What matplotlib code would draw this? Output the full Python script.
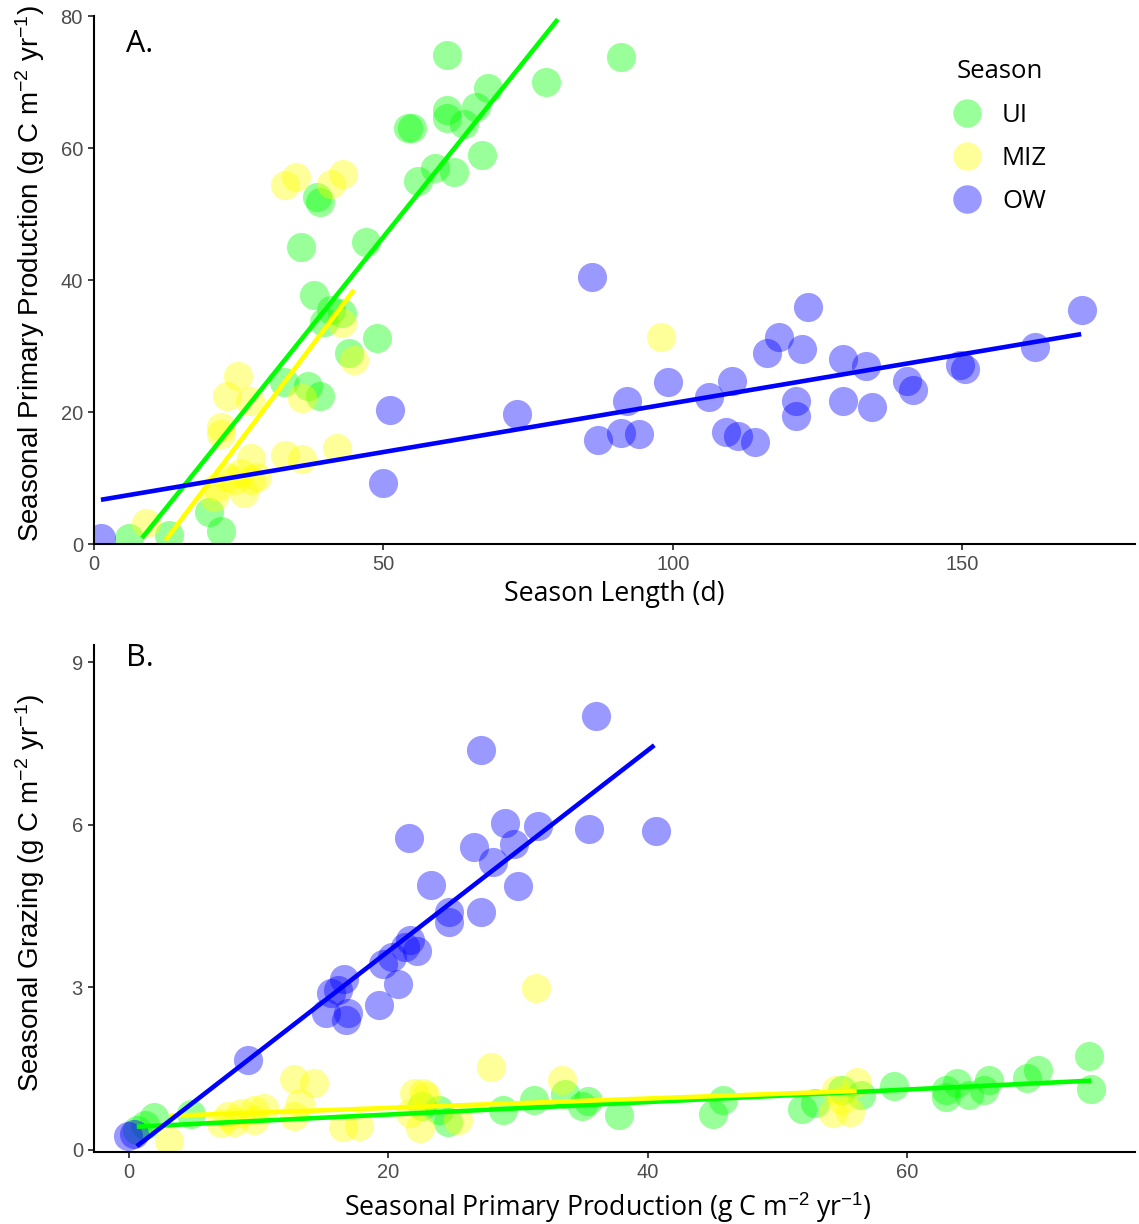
import matplotlib
matplotlib.use("Agg")
import matplotlib.pyplot as plt
from matplotlib.lines import Line2D

# ---------------- data: panel A (season length vs primary production) -------------
ui_len = [6.0, 13.0, 19.9, 21.9, 32.8, 37.0, 39.0, 35.8, 38.0, 38.5, 39.0, 39.7, 40.9,
          42.8, 44.0, 47.0, 48.9, 54.2, 54.9, 56.0, 58.9, 61.0, 61.0, 61.0, 62.1, 63.9,
          66.0, 67.0, 68.0, 78.0, 91.0]
ui_pp = [0.9, 1.4, 4.8, 2.0, 24.6, 23.9, 22.4, 45.0, 37.8, 52.6, 51.8, 33.6, 35.5,
         35.0, 28.9, 45.8, 31.2, 63.0, 63.0, 55.0, 57.0, 74.1, 65.8, 64.6, 56.4, 63.6,
         66.2, 58.9, 69.1, 70.0, 73.8]

miz_len = [9.0, 20.7, 21.2, 21.9, 21.9, 23.0, 23.0, 24.2, 24.9, 25.4, 25.9, 26.9, 27.1,
           27.1, 28.2, 33.0, 33.0, 34.9, 35.9, 35.9, 40.9, 42.0, 42.8, 43.0, 44.9, 97.9]
miz_pp = [3.2, 7.1, 8.6, 17.7, 16.7, 22.4, 10.2, 9.7, 25.5, 10.8, 7.7, 21.7, 13.0,
          9.7, 10.2, 54.4, 13.5, 55.6, 22.1, 12.9, 54.5, 14.5, 33.5, 56.1, 27.9, 31.3]

ow_len = [1.2, 49.9, 51.1, 73.0, 86.1, 87.1, 91.1, 92.1, 94.2, 99.1, 106.2, 109.2, 110.2,
          111.2, 114.2, 116.3, 118.3, 121.3, 121.3, 122.3, 123.3, 129.4, 129.4, 133.3,
          134.4, 140.4, 141.5, 149.5, 150.4, 162.5, 170.6]
ow_pp = [0.9, 9.2, 20.3, 19.7, 40.4, 15.8, 16.8, 21.6, 16.7, 24.5, 22.3, 17.0, 24.7,
         16.3, 15.4, 28.9, 31.4, 21.6, 19.4, 29.5, 35.9, 28.0, 21.7, 27.0, 20.8, 24.7,
         23.3, 27.1, 26.5, 29.9, 35.4]

# regression line end points
fitA_ui_x, fitA_ui_y = [8.3, 80.1], [0.9, 79.5]
fitA_miz_x, fitA_miz_y = [12.4, 44.9], [0.6, 38.5]
fitA_ow_x, fitA_ow_y = [1.2, 170.5], [6.7, 31.8]

# ---------------- data: panel B (primary production vs grazing) --------------------
ui_ppB = [0.6, 1.2, 1.9, 4.8, 22.6, 23.9, 24.6, 28.8, 31.2, 33.6, 34.9, 35.4, 37.8,
          45.0, 45.8, 51.9, 52.9, 55.0, 56.4, 59.0, 63.0, 63.0, 63.8, 64.8, 65.9, 66.3,
          69.2, 70.1, 74.0, 74.2]
ui_graz = [0.37, 0.46, 0.60, 0.67, 0.82, 0.73, 0.51, 0.73, 0.93, 1.04, 0.81, 0.91, 0.65,
           0.66, 0.92, 0.76, 0.86, 1.11, 1.01, 1.18, 0.98, 1.11, 1.23, 1.01, 1.11, 1.29,
           1.33, 1.48, 1.73, 1.12]

miz_ppB = [3.1, 7.1, 7.6, 8.1, 8.6, 9.6, 9.6, 10.4, 12.7, 12.7, 13.2, 14.3, 16.5, 17.7,
           21.7, 22.0, 22.4, 22.7, 22.9, 25.4, 27.9, 31.4, 33.4, 54.3, 54.5, 55.0, 55.6,
           56.1]
miz_graz = [0.17, 0.49, 0.62, 0.52, 0.68, 0.74, 0.55, 0.77, 1.31, 0.63, 0.86, 1.24, 0.42,
            0.44, 0.68, 1.05, 0.41, 1.05, 1.00, 0.55, 1.54, 2.99, 1.30, 0.68, 1.11, 0.92,
            0.71, 1.26]

ow_ppB = [-0.1, 0.4, 9.2, 15.2, 15.6, 16.1, 16.6, 16.7, 16.9, 19.3, 19.6, 20.3, 20.7,
          21.3, 21.6, 21.7, 22.2, 23.3, 24.7, 24.7, 26.6, 27.1, 27.1, 28.1, 29.0, 29.7,
          30.0, 31.5, 35.5, 36.0, 40.6]
ow_graz = [0.25, 0.30, 1.66, 2.52, 2.89, 2.95, 3.15, 2.40, 2.52, 2.68, 3.44, 3.57, 3.06,
           3.75, 5.76, 3.87, 3.68, 4.89, 4.40, 4.21, 5.60, 7.39, 4.40, 5.32, 6.03, 5.64,
           4.88, 5.98, 5.92, 8.01, 5.89]

fitB_ui_x, fitB_ui_y = [0.6, 74.2], [0.43, 1.28]
fitB_miz_x, fitB_miz_y = [3.1, 56.1], [0.63, 1.09]
fitB_ow_x, fitB_ow_y = [0.6, 40.5], [0.07, 7.47]

seasons = ["UI", "MIZ", "OW"]
colors = {"UI": "#00FF00", "MIZ": "#FFFF00", "OW": "#0000FF"}

# ---------------- styling ---------------------------------------------------------
plt.rcParams["font.family"] = ["Liberation Sans", "DejaVu Sans"]
plt.rcParams["mathtext.fontset"] = "custom"
plt.rcParams["mathtext.rm"] = "Liberation Sans"
plt.rcParams["mathtext.it"] = "Liberation Sans:italic"
plt.rcParams["mathtext.bf"] = "Liberation Sans:bold"

W, H = 1139, 1224
fig = plt.figure(figsize=(W / 100, H / 100), dpi=100)

axA = fig.add_axes([94 / W, 1 - 544 / H, 1041 / W, 528 / H])
axB = fig.add_axes([94 / W, 1 - 1152 / H, 1041 / W, 507 / H])

S = 440
ALPHA = 0.4
LW = 3.3
TITLE_FS = 19.2
LAB_FAM = ["Open Sans", "DejaVu Sans"]

def style(ax):
    for sp in ("top", "right"):
        ax.spines[sp].set_visible(False)
    for sp in ("left", "bottom"):
        ax.spines[sp].set_linewidth(1.5)
        ax.spines[sp].set_color("black")
    ax.tick_params(axis="both", which="major", length=4.5, width=1.3, color="#333333",
                   labelsize=14.5, labelcolor="#4D4D4D", pad=3.5)

# Panel A
dataA = {"UI": (ui_len, ui_pp), "MIZ": (miz_len, miz_pp), "OW": (ow_len, ow_pp)}
fitA = {"UI": (fitA_ui_x, fitA_ui_y), "MIZ": (fitA_miz_x, fitA_miz_y),
        "OW": (fitA_ow_x, fitA_ow_y)}
for s in seasons:
    axA.scatter(dataA[s][0], dataA[s][1], s=S, color=colors[s], alpha=ALPHA,
                linewidths=0, zorder=2)
for s in seasons:
    axA.plot(fitA[s][0], fitA[s][1], color=colors[s], lw=LW, zorder=3,
             solid_capstyle="butt")
axA.set_xlim(0, 179.8)
axA.set_ylim(0, 80)
axA.set_xticks([0, 50, 100, 150])
axA.set_yticks([0, 20, 40, 60, 80])
style(axA)
axA.set_xlabel("Season Length (d)", family=LAB_FAM, fontsize=TITLE_FS, color="black")
axA.xaxis.set_label_coords(0.5, (544 - 594) / 528)
axA.xaxis.label.set_va("center")
axA.set_ylabel(r"Seasonal Primary Production (g C m$^{-2}$ yr$^{-1}$)", fontsize=20,
               color="black")
axA.yaxis.set_label_coords((30 - 94) / 1041, (544 - 273) / 528)
axA.yaxis.label.set_va("center")

# Panel B
dataB = {"UI": (ui_ppB, ui_graz), "MIZ": (miz_ppB, miz_graz), "OW": (ow_ppB, ow_graz)}
fitB = {"UI": (fitB_ui_x, fitB_ui_y), "MIZ": (fitB_miz_x, fitB_miz_y),
        "OW": (fitB_ow_x, fitB_ow_y)}
for s in seasons:
    axB.scatter(dataB[s][0], dataB[s][1], s=S, color=colors[s], alpha=ALPHA,
                linewidths=0, zorder=2)
for s in seasons:
    axB.plot(fitB[s][0], fitB[s][1], color=colors[s], lw=LW, zorder=3,
             solid_capstyle="butt")
axB.set_xlim(-2.7, 77.56)
axB.set_ylim(-0.037, 9.32)
axB.set_xticks([0, 20, 40, 60])
axB.set_yticks([0, 3, 6, 9])
style(axB)
axB.set_xlabel(r"Seasonal Primary Production (g C m$^{-2}$ yr$^{-1}$)",
               family=LAB_FAM, fontsize=TITLE_FS, color="black")
axB.xaxis.set_label_coords((608 - 94) / 1041, (1152 - 1208) / 507)
axB.xaxis.label.set_va("center")
axB.set_ylabel(r"Seasonal Grazing (g C m$^{-2}$ yr$^{-1}$)", fontsize=20,
               color="black")
axB.yaxis.set_label_coords((30 - 94) / 1041, (1152 - 893) / 507)
axB.yaxis.label.set_va("center")

# Panel letters
fig.text(126 / W, 1 - 44 / H, "A.", family=LAB_FAM, fontsize=22,
         ha="left", va="center")
fig.text(126 / W, 1 - 658 / H, "B.", family=LAB_FAM, fontsize=22,
         ha="left", va="center")

# Legend
handles = [Line2D([], [], marker="o", linestyle="", markersize=20.5,
                  markerfacecolor=colors[s], markeredgewidth=0, alpha=ALPHA)
           for s in seasons]
leg = axA.legend(handles, seasons, title="Season", loc="upper left",
                 bbox_to_anchor=(939 / W, 1 - 46 / H), bbox_transform=fig.transFigure,
                 frameon=False, borderpad=0, handlelength=1.2, handletextpad=0.75,
                 labelspacing=0.69, prop={"family": LAB_FAM, "size": 18.5},
                 title_fontproperties={"family": LAB_FAM, "size": 18.5})
leg._legend_box.sep = 14

fig.savefig("out.png", dpi=100, facecolor="white")
